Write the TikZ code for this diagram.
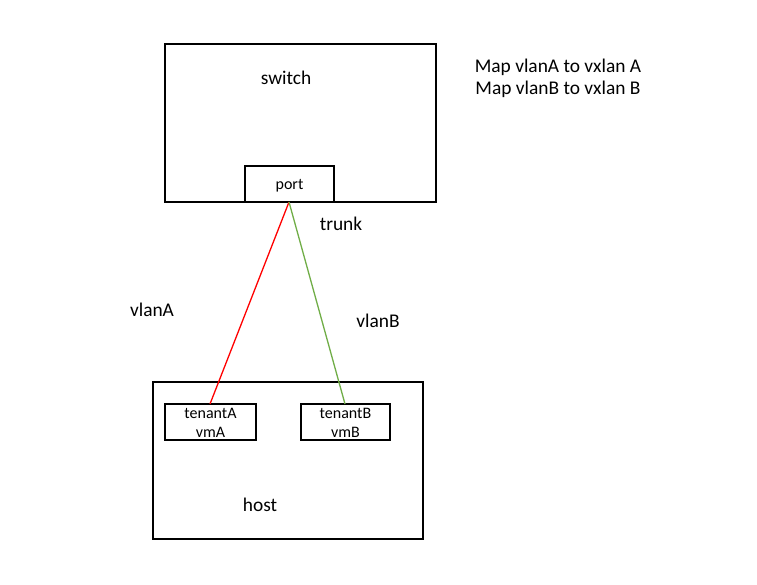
\documentclass[tikz,border=0pt]{standalone}
\usepackage{fontspec}
\setmainfont{Carlito}
\definecolor{vgreen}{RGB}{112,173,71}
\begin{document}
\begin{tikzpicture}[x=1pt,y=-1pt,
  box/.style={draw=black,line width=1.2pt,fill=white},
  big/.style={font=\fontsize{19.4}{22}\selectfont},
  small/.style={font=\fontsize{16}{19.5}\selectfont},
  link/.style={line width=1.3pt}]
\useasboundingbox (0,0) rectangle (757,585);
\node[box,minimum width=271pt,minimum height=158pt,inner sep=0pt] (switch) at (300.5,123) {};
\node[box,minimum width=89pt,minimum height=36pt,inner sep=0pt] (port) at (289.5,184) {};
\node[small] (portlabel) at (289.5,185.5) {port};
\node[big] (swlabel) at (286,78) {switch};
\node[box,minimum width=270pt,minimum height=157pt,inner sep=0pt] (host) at (288,460.5) {};
\node[big] (hostlabel) at (260,505) {host};
\node[box,minimum width=91pt,minimum height=36pt,inner sep=0pt] (tA) at (210.5,422) {};
\node[box,minimum width=89pt,minimum height=36pt,inner sep=0pt] (tB) at (345.5,422) {};
\node[small,align=center] (tAl) at (210.5,423) {tenantA\\vmA};
\node[small,align=center] (tBl) at (345.5,423) {tenantB\\vmB};
\coordinate (pA) at (289,202);
\coordinate (pB) at (289,202);
\coordinate (eA) at (210,404);
\coordinate (eB) at (345,404);
\draw[link,red] (pA) -- (eA);
\draw[link,vgreen] (pB) -- (eB);
\node[big] (trunk) at (341,224) {trunk};
\node[big] (vlanA) at (152,310) {vlanA};
\node[big] (vlanB) at (378,321) {vlanB};
\node[big,align=center] (map) at (558,78) {Map vlanA to vxlan A\\Map vlanB to vxlan B};
\end{tikzpicture}
\end{document}
